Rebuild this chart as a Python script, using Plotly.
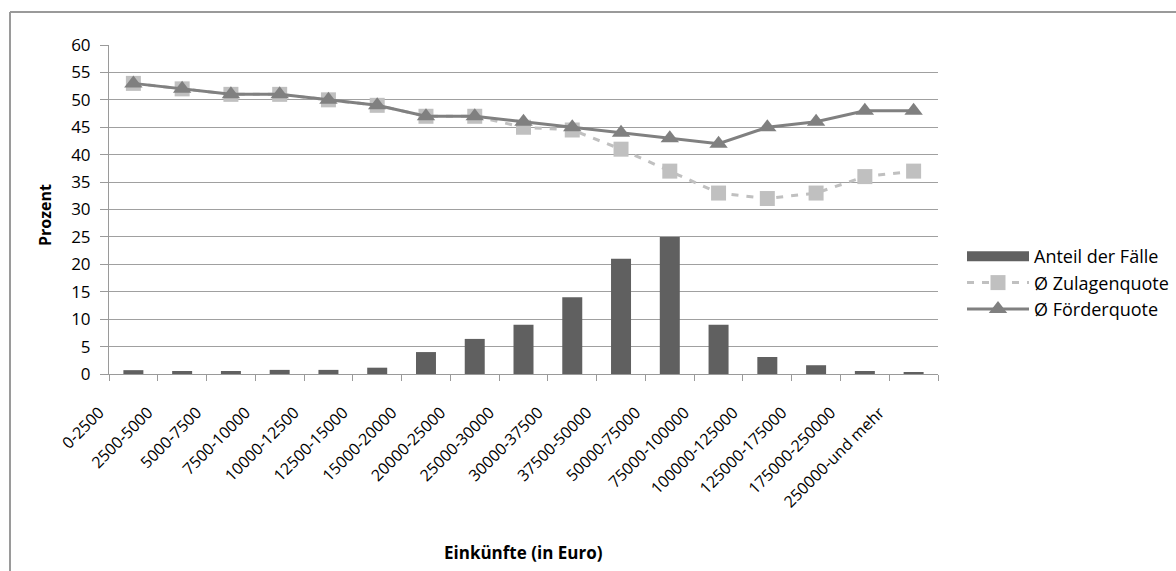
import plotly.graph_objects as go

categories = [
    "0-2500", "2500-5000", "5000-7500", "7500-10000", "10000-12500",
    "12500-15000", "15000-20000", "20000-25000", "25000-30000", "30000-37500",
    "37500-50000", "50000-75000", "75000-100000", "100000-125000",
    "125000-175000", "175000-250000", "250000-und mehr",
]
anteil_faelle = [0.7, 0.55, 0.55, 0.75, 0.75, 1.15, 4.0, 6.4, 9.0, 14.0,
                 21.0, 25.0, 9.0, 3.1, 1.6, 0.55, 0.2]
zulagenquote = [53, 52, 51, 51, 50, 49, 47, 47, 45, 44.5, 41, 37, 33, 32, 33, 36, 37]
foerderquote = [53, 52, 51, 51, 50, 49, 47, 47, 46, 45, 44, 43, 42, 45, 46, 48, 48]

FONT = "Open Sans"
BAR_COLOR = "#606060"
W, H = 1176, 571
ML, MR, MT, MB = 109, 238, 45, 197
PW = W - ML - MR
PH = H - MT - MB


def px_x(px):
    return (px - ML) / PW


def px_y(py):
    return (H - MB - py) / PH


fig = go.Figure()
fig.add_trace(go.Bar(
    x=categories, y=anteil_faelle, name="Anteil der Fälle", showlegend=False,
    marker=dict(color=BAR_COLOR, line=dict(width=0)), width=0.41,
))
# wide swatch for the bar series in the legend
fig.add_trace(go.Scatter(
    x=[None], y=[None], mode="lines", name="Anteil der Fälle",
    line=dict(color=BAR_COLOR, width=10),
))
fig.add_trace(go.Scatter(
    x=categories, y=zulagenquote, name="Ø Zulagenquote", mode="lines+markers",
    line=dict(color="#c0c0c0", width=3, dash="7px,8px"),
    marker=dict(symbol="square", size=15, color="#c0c0c0"),
))
fig.add_trace(go.Scatter(
    x=categories, y=foerderquote, name="Ø Förderquote", mode="lines+markers",
    line=dict(color="#808080", width=3),
    marker=dict(symbol="triangle-up", size=16, color="#808080"),
))

# outer chart frame (left and top edges fall inside the page)
fx, fy = px_x(10), px_y(12)
fig.add_shape(type="line", xref="paper", yref="paper", x0=fx, x1=fx, y0=-1, y1=fy,
              line=dict(color="#9a9a9a", width=2))
fig.add_shape(type="line", xref="paper", yref="paper", x0=fx, x1=1.5, y0=fy, y1=fy,
              line=dict(color="#9a9a9a", width=2))

# axis titles
fig.add_annotation(text="<b>Einkünfte (in Euro)</b>", xref="paper", yref="paper",
                   x=px_x(523), y=px_y(552), showarrow=False,
                   xanchor="center", yanchor="middle",
                   font=dict(family=FONT, size=17, color="black"))
fig.add_annotation(text="<b>Prozent</b>", xref="paper", yref="paper",
                   x=px_x(45), y=px_y(215), showarrow=False, textangle=-90,
                   xanchor="center", yanchor="middle",
                   font=dict(family=FONT, size=16, color="black"))

fig.update_layout(
    width=W, height=H,
    margin=dict(l=ML, r=MR, t=MT, b=MB, autoexpand=False),
    paper_bgcolor="white", plot_bgcolor="white",
    font=dict(family=FONT, size=16, color="black"),
    showlegend=True,
    legend=dict(x=px_x(962), y=px_y(283), xanchor="left", yanchor="middle",
                font=dict(family=FONT, size=18), tracegroupgap=0, itemwidth=62,
                bgcolor="rgba(0,0,0,0)"),
    xaxis=dict(
        type="category", range=[-0.5, 16.5], tickangle=-45, tickson="boundaries",
        ticks="outside", ticklen=6, tickcolor="#9a9a9a",
        showline=True, linecolor="#9a9a9a", linewidth=1,
        showgrid=False, tickfont=dict(family=FONT, size=16),
        ticklabelshift=-34, ticklabelstandoff=22,
    ),
    yaxis=dict(
        range=[0, 60], dtick=5, ticks="outside", ticklen=8, tickcolor="#9a9a9a",
        showline=True, linecolor="#9a9a9a", linewidth=1,
        showgrid=True, gridcolor="#a0a0a0", gridwidth=1, zeroline=False,
        tickfont=dict(family=FONT, size=17), ticklabelstandoff=6,
    ),
)

fig.write_html("out.html")
